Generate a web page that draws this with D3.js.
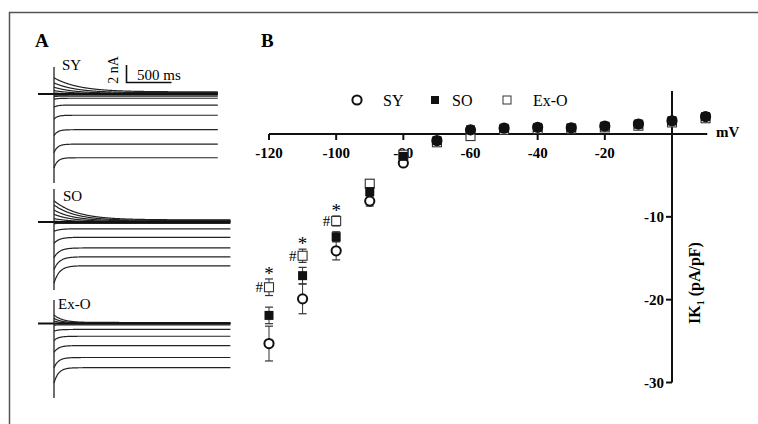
<!DOCTYPE html>
<html>
<head>
<meta charset="utf-8">
<script src="https://cdn.jsdelivr.net/npm/d3@7"></script>
<style>
  body { margin: 0; background: #fff; }
  svg text { font-family: "Liberation Serif", "Times New Roman", serif; }
</style>
</head>
<body>
<div id="chart"></div>
<script>
// ---- panel B data (IK1 density, pA/pF) ----
var voltages = [-120, -110, -100, -90, -80, -70, -60, -50, -40, -30, -20, -10, 0, 10];
var sySeries  = [-25.3, -19.9, -14.1, -8.1, -3.5, -0.8, 0.5, 0.7, 0.8, 0.75, 0.95, 1.2, 1.6, 2.1];
var syErr     = [2.1, 1.8, 1.1, 0.6, 0.4, 0.3, 0.2, 0.2, 0.2, 0.2, 0.2, 0.2, 0.3, 0.3];
var soSeries  = [-21.9, -17.1, -12.4, -6.95, -2.7, -0.8, 0.5, 0.7, 0.8, 0.75, 0.95, 1.2, 1.6, 2.1];
var soErr     = [1.0, 1.0, 0.6, 0.5, 0.4, 0.3, 0.2, 0.2, 0.2, 0.2, 0.2, 0.2, 0.3, 0.3];
var exoSeries = [-18.5, -14.7, -10.5, -6.0, -2.5, -1.0, -0.25, 0.5, 0.6, 0.6, 0.8, 1.0, 1.4, 1.9];
var exoErr    = [1.0, 0.8, 0.6, 0.5, 0.4, 0.3, 0.2, 0.2, 0.2, 0.2, 0.2, 0.2, 0.3, 0.3];
var xTicks = [-120, -100, -80, -60, -40, -20];
var yTicks = [-10, -20, -30];
var sigVoltages = [-120, -110, -100];   // marked with # and *

// ---- panel A data (current traces, nA): steady level, initial level, decay time (ms) ----
var syTraces = [
  [0.25, 1.9, 280], [0.15, 1.3, 250], [0.08, 0.8, 220], [0.03, 0.4, 200],
  [0, 0.12, 150], [-0.12, -0.15, 40], [-0.25, -0.3, 40],
  [-0.5, -0.62, 40], [-1.3, -1.55, 40], [-2.5, -2.95, 40], [-4.2, -4.9, 40],
  [-5.9, -6.9, 40], [-7.5, -8.7, 40]
];
var soTraces = [
  [0.25, 2.5, 260], [0.18, 2.0, 240], [0.12, 1.4, 220], [0.06, 0.9, 200], [0.02, 0.4, 180],
  [0, 0.1, 100], [-0.15, -0.2, 50],
  [-0.8, -1.1, 60], [-1.8, -2.5, 60], [-3.05, -4.2, 60], [-4.1, -5.6, 60], [-5.15, -7.2, 60]
];
var exoTraces = [
  [0.12, 1.0, 100], [0.06, 0.6, 90], [0.02, 0.3, 80],
  [0, 0, 50], [-0.15, -0.2, 50],
  [-0.7, -0.9, 50], [-1.5, -2.0, 50], [-2.6, -3.4, 50], [-4.0, -5.2, 50], [-5.2, -7.0, 50]
];

var W = 758, H = 424;
var svg = d3.select("#chart").append("svg")
  .attr("width", W).attr("height", H);

// frame
svg.append("rect")
  .attr("x", 9.5).attr("y", 12.5)
  .attr("width", 770).attr("height", 440)
  .style("fill", "none").style("stroke", "#555").style("stroke-width", 1.5);

// ===================== Panel A =====================
svg.append("text").attr("x", 35).attr("y", 47)
  .style("font-size", "19px").style("font-weight", "bold").text("A");

var tScale = d3.scaleLinear().domain([0, 2000]).range([54, 234]);
var pxPerNa = 8.5;

var panels = [
  {name: "SY", traces: syTraces, zero: 94, tEnd: 1820, top: 67, bottom: 183, lx: 62, ly: 70},
  {name: "SO", traces: soTraces, zero: 222, tEnd: 1960, top: 189, bottom: 290, lx: 63, ly: 201},
  {name: "Ex-O", traces: exoTraces, zero: 323.5, tEnd: 1960, top: 300, bottom: 398, lx: 58, ly: 309}
];

var times = d3.range(0, 2001, 5);

panels.forEach(function(p) {
  var iScale = d3.scaleLinear().domain([0, -1]).range([p.zero, p.zero + pxPerNa]);
  var g = svg.append("g").attr("class", "panel-" + p.name);

  var line = d3.line()
    .x(function(d) { return tScale(d[0]); })
    .y(function(d) { return iScale(d[1]); })
    .curve(d3.curveBasis);

  p.traces.forEach(function(tr) {
    var pts = times.filter(function(t) { return t <= p.tEnd; }).map(function(t) {
      return [t, tr[0] + (tr[1] - tr[0]) * Math.exp(-t / tr[2])];
    });
    g.append("path")
      .attr("d", line(pts))
      .style("fill", "none")
      .style("stroke", "#222")
      .style("stroke-width", 1.2);
  });

  // holding level line
  g.append("line")
    .attr("x1", 38).attr("x2", tScale(p.tEnd))
    .attr("y1", iScale(0)).attr("y2", iScale(0))
    .style("stroke", "#111").style("stroke-width", 2);

  // step artefact
  g.append("line")
    .attr("x1", tScale(0)).attr("x2", tScale(0))
    .attr("y1", p.top).attr("y2", p.bottom)
    .style("stroke", "#222").style("stroke-width", 1.3);

  g.append("text").attr("x", p.lx).attr("y", p.ly)
    .style("font-size", "15px").text(p.name);
});

// scale bar
svg.append("path")
  .attr("d", "M126.5,65V82.5H171.5")
  .style("fill", "none").style("stroke", "#111").style("stroke-width", 1.6);
svg.append("text")
  .attr("transform", "translate(118,70) rotate(-90)")
  .attr("text-anchor", "middle")
  .style("font-size", "14px").text("2 nA");
svg.append("text").attr("x", 137).attr("y", 80)
  .style("font-size", "15px").text("500 ms");

// ===================== Panel B =====================
svg.append("text").attr("x", 261).attr("y", 47)
  .style("font-size", "19px").style("font-weight", "bold").text("B");

var x = d3.scaleLinear().domain([-120, 0]).range([269, 672]);
var y = d3.scaleLinear().domain([0, -30]).range([134, 382.5]);

var gB = svg.append("g");

// x axis
gB.append("line")
  .attr("x1", x(-120)).attr("x2", x(10.5))
  .attr("y1", y(0)).attr("y2", y(0))
  .style("stroke", "#111").style("stroke-width", 2);
gB.selectAll(".xtick").data(xTicks).enter().append("line")
  .attr("x1", function(d) { return x(d); }).attr("x2", function(d) { return x(d); })
  .attr("y1", y(0)).attr("y2", y(0) + 6)
  .style("stroke", "#111").style("stroke-width", 2);
gB.selectAll(".xlab").data(xTicks).enter().append("text")
  .attr("x", function(d) { return x(d); })
  .attr("y", 158)
  .attr("text-anchor", "middle")
  .style("font-size", "15px").style("font-weight", "bold")
  .text(function(d) { return d; });
gB.append("text").attr("x", 716).attr("y", 137)
  .style("font-size", "15px").style("font-weight", "bold").text("mV");

// y axis
gB.append("line")
  .attr("x1", x(0)).attr("x2", x(0))
  .attr("y1", y(5.2)).attr("y2", y(-30))
  .style("stroke", "#111").style("stroke-width", 2);
gB.selectAll(".ytick").data(yTicks).enter().append("line")
  .attr("x1", x(0) - 6).attr("x2", x(0))
  .attr("y1", function(d) { return y(d); }).attr("y2", function(d) { return y(d); })
  .style("stroke", "#111").style("stroke-width", 2);
gB.selectAll(".ylab").data(yTicks).enter().append("text")
  .attr("x", x(0) - 8)
  .attr("y", function(d) { return y(d); })
  .attr("dy", "0.35em")
  .attr("text-anchor", "end")
  .style("font-size", "15px").style("font-weight", "bold")
  .text(function(d) { return d; });
var yl = gB.append("text")
  .attr("transform", "translate(700,283) rotate(-90)")
  .attr("text-anchor", "middle")
  .style("font-size", "16px").style("font-weight", "bold");
yl.append("tspan").text("IK");
yl.append("tspan").attr("dy", 4).style("font-size", "10px").text("1");
yl.append("tspan").attr("dy", -4).text(" (pA/pF)");

// error bars
function errorBars(vals, errs) {
  var g = gB.append("g");
  voltages.forEach(function(v, i) {
    var lo = vals[i] - errs[i], hi = vals[i] + errs[i];
    g.append("line")
      .attr("x1", x(v)).attr("x2", x(v))
      .attr("y1", y(lo)).attr("y2", y(hi))
      .style("stroke", "#333").style("stroke-width", 1);
    [lo, hi].forEach(function(e) {
      g.append("line")
        .attr("x1", x(v) - 4).attr("x2", x(v) + 4)
        .attr("y1", y(e)).attr("y2", y(e))
        .style("stroke", "#333").style("stroke-width", 1.2);
    });
  });
}
errorBars(exoSeries, exoErr);
errorBars(sySeries, syErr);
errorBars(soSeries, soErr);

// markers: open squares, circles, filled squares
gB.selectAll(".exo").data(exoSeries).enter().append("rect")
  .attr("x", function(d, i) { return x(voltages[i]) - 4.5; })
  .attr("y", function(d) { return y(d) - 4.5; })
  .attr("width", 9).attr("height", 9)
  .style("fill", "#fff").style("stroke", "#333").style("stroke-width", 1.1);
gB.selectAll(".sy").data(sySeries).enter().append("circle")
  .attr("cx", function(d, i) { return x(voltages[i]); })
  .attr("cy", function(d) { return y(d); })
  .attr("r", 4.6)
  .style("fill", "#fff").style("stroke", "#111").style("stroke-width", 2);
gB.selectAll(".so").data(soSeries).enter().append("rect")
  .attr("x", function(d, i) { return x(voltages[i]) - 4.5; })
  .attr("y", function(d) { return y(d) - 4.5; })
  .attr("width", 9).attr("height", 9)
  .style("fill", "#111");

// significance marks
sigVoltages.forEach(function(v) {
  var i = voltages.indexOf(v);
  var top = exoSeries[i] + exoErr[i];
  gB.append("text")
    .attr("x", x(v)).attr("y", y(top) + 1)
    .attr("text-anchor", "middle")
    .style("font-size", "19px").text("*");
  gB.append("text")
    .attr("x", x(v) - 6).attr("y", y(exoSeries[i]) + 5)
    .attr("text-anchor", "end")
    .style("font-size", "15px").text("#");
});

// legend
var legend = gB.append("g");
legend.append("circle").attr("cx", 357).attr("cy", 100).attr("r", 4.6)
  .style("fill", "#fff").style("stroke", "#111").style("stroke-width", 2);
legend.append("text").attr("x", 383).attr("y", 106).style("font-size", "16px").text("SY");
legend.append("rect").attr("x", 431).attr("y", 96).attr("width", 8).attr("height", 8)
  .style("fill", "#111");
legend.append("text").attr("x", 452).attr("y", 106).style("font-size", "16px").text("SO");
legend.append("rect").attr("x", 503).attr("y", 96).attr("width", 8).attr("height", 8)
  .style("fill", "#fff").style("stroke", "#333").style("stroke-width", 1);
legend.append("text").attr("x", 533).attr("y", 106).style("font-size", "16px").text("Ex-O");
</script>
</body>
</html>
